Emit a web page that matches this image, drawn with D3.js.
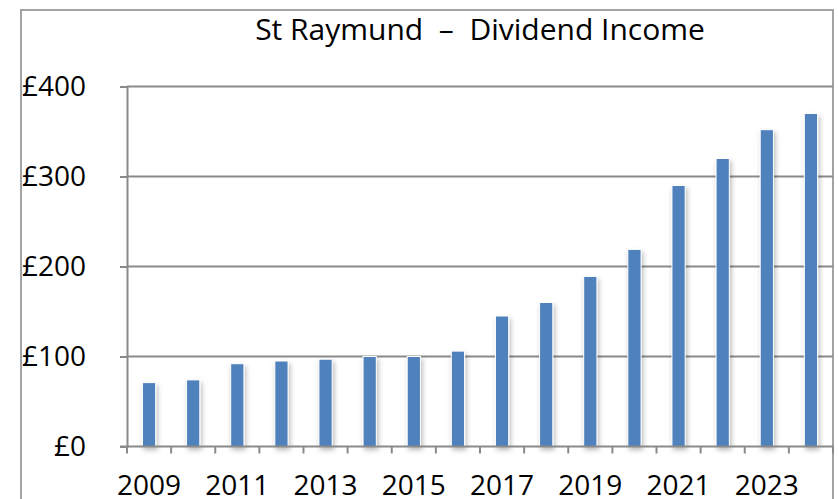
<!DOCTYPE html>
<html>
<head>
<meta charset="utf-8">
<script src="https://cdn.jsdelivr.net/npm/d3@7"></script>
<style>
  html, body { margin: 0; padding: 0; background: #fff; }
  svg { display: block; font-family: "Open Sans", Lato, sans-serif; }
</style>
</head>
<body>
<div id="chart"></div>
<script>
const years = ['2009', '2010', '2011', '2012', '2013', '2014', '2015', '2016',
  '2017', '2018', '2019', '2020', '2021', '2022', '2023', '2024'];
const income = [71, 74, 92, 95, 97, 100, 100, 106, 145, 160, 189, 219, 290, 320, 352, 370];
const yTicks = [0, 100, 200, 300, 400];
const xLabels = ['2009', '2011', '2013', '2015', '2017', '2019', '2021', '2023'];
const title = 'St Raymund  \u2013  Dividend Income';

const width = 838, height = 499;
const plot = { left: 127, right: 833, top: 86.5, bottom: 446.5 };
const font = '"Open Sans", sans-serif';

const svg = d3.select('#chart').append('svg')
  .attr('width', width)
  .attr('height', height);

// soft shadow under bars
const defs = svg.append('defs');
defs.append('filter')
  .attr('id', 'shadow')
  .attr('x', '-60%').attr('y', '-10%')
  .attr('width', '220%').attr('height', '130%')
  .append('feDropShadow')
  .attr('dx', 1.5).attr('dy', 3)
  .attr('stdDeviation', 2.8)
  .attr('flood-color', '#000')
  .attr('flood-opacity', 0.28);

// outer frame (bottom goes off the picture)
svg.append('rect')
  .attr('x', 21).attr('y', 10)
  .attr('width', 812).attr('height', 520)
  .attr('fill', 'none')
  .attr('stroke', '#a3a3a3')
  .attr('stroke-width', 2);

svg.append('text')
  .attr('x', 480)
  .attr('y', 40)
  .attr('text-anchor', 'middle')
  .attr('xml:space', 'preserve')
  .style('white-space', 'pre')
  .attr('font-family', font)
  .attr('font-size', 30)
  .attr('fill', '#000')
  .text(title);

const x = d3.scaleBand()
  .domain(years)
  .range([plot.left, plot.right])
  .paddingInner(0.7)
  .paddingOuter(0.35);

const y = d3.scaleLinear()
  .domain([0, 400])
  .range([plot.bottom, plot.top]);

// gridlines
svg.append('g')
  .selectAll('line')
  .data(yTicks.filter(d => d > 0))
  .join('line')
  .attr('x1', plot.left).attr('x2', plot.right)
  .attr('y1', d => y(d)).attr('y2', d => y(d))
  .attr('stroke', '#8a8a8a')
  .attr('stroke-width', 2);

// y axis
const yAxis = svg.append('g')
  .attr('transform', `translate(${plot.left},0)`)
  .call(d3.axisLeft(y)
    .tickValues(yTicks)
    .tickFormat(d => '£' + d)
    .tickSize(7)
    .tickPadding(34));
yAxis.select('.domain').attr('stroke', '#8a8a8a').attr('stroke-width', 2);
yAxis.selectAll('.tick line').attr('stroke', '#8a8a8a').attr('stroke-width', 2);
yAxis.selectAll('.tick text')
  .attr('font-size', 28)
  .attr('font-family', font)
  .attr('fill', '#000');

// bars
svg.append('g')
  .selectAll('rect')
  .data(income)
  .join('rect')
  .attr('x', (d, i) => x(years[i]))
  .attr('y', d => y(d))
  .attr('width', x.bandwidth())
  .attr('height', d => y(0) - y(d))
  .attr('fill', '#4f81bd')
  .attr('stroke', '#fff')
  .attr('stroke-width', 1)
  .attr('filter', 'url(#shadow)');

// x axis: category boundary ticks
const step = x.step();
const bounds = years.map(d => x(d) - x.paddingOuter() * step).concat([plot.right]);
const xAxis = svg.append('g');
xAxis.append('line')
  .attr('x1', plot.left - 7).attr('x2', plot.right)
  .attr('y1', y(0)).attr('y2', y(0))
  .attr('stroke', '#8a8a8a')
  .attr('stroke-width', 2);
xAxis.selectAll('line.tk')
  .data(bounds)
  .join('line')
  .attr('class', 'tk')
  .attr('x1', d => d).attr('x2', d => d)
  .attr('y1', y(0)).attr('y2', y(0) + 7)
  .attr('stroke', '#8a8a8a')
  .attr('stroke-width', 2);

// x labels every other year
svg.append('g')
  .attr('transform', `translate(0,${y(0)})`)
  .call(d3.axisBottom(x).tickValues(xLabels).tickSize(0).tickPadding(29))
  .call(g => g.select('.domain').remove())
  .selectAll('text')
  .attr('font-size', 28)
  .attr('font-family', font)
  .attr('fill', '#000');
</script>
</body>
</html>
